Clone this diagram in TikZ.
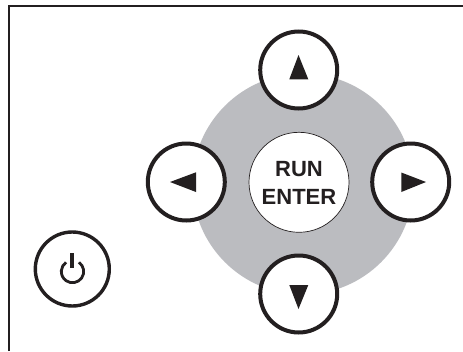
\documentclass[tikz,border=0pt]{standalone}
\usepackage{fontspec}
\setmainfont{Liberation Sans}
\definecolor{ink}{HTML}{231F20}
\definecolor{padgray}{HTML}{BBBCC0}
\tikzset{
  x=1pt,y=-1pt,
  navbtn/.style={circle,draw=ink,line width=4pt,fill=white,minimum size=77pt,inner sep=0pt,outer sep=0pt},
  pwrbtn/.style={circle,draw=ink,line width=3.4pt,fill=white,minimum size=74pt,inner sep=0pt,outer sep=0pt},
  runbtn/.style={circle,draw=ink,line width=0.7pt,fill=white,minimum size=100pt,inner sep=0pt,outer sep=0pt,
    align=center,font=\fontsize{22}{28.8}\selectfont\bfseries,text=ink},
  arrowglyph/.style={fill=ink,draw=none},
  frameline/.style={draw=ink,line width=2pt},
}
\begin{document}
\begin{tikzpicture}
\useasboundingbox (0,0) rectangle (463,351);
\fill[white] (0,0) rectangle (463,351);
\draw[frameline] (8.7,351) -- (8.7,6) -- (463,6);
\fill[padgray] (303,184) circle[radius=110.5];
\node[runbtn] (run) at (299,182.3) {};
\node[align=center,font=\fontsize{22}{28.8}\selectfont\bfseries,text=ink,inner sep=0pt] (runlabel) at (299,183) {RUN\\ENTER};
\node[navbtn] (up) at (298.7,70) {};
\node[navbtn] (down) at (298.7,294) {};
\node[navbtn] (left) at (186.3,182) {};
\node[navbtn] (right) at (410.7,182) {};
\node[pwrbtn] (power) at (72.3,269) {};
\fill[arrowglyph] (298.5,55) -- (308.3,79.3) -- (289.3,79.3) -- cycle;
\fill[arrowglyph] (298.5,309) -- (308.3,285) -- (289.3,285) -- cycle;
\fill[arrowglyph] (170,182) -- (196,172.3) -- (196,192) -- cycle;
\fill[arrowglyph] (426,182) -- (401.3,172.5) -- (401.3,192) -- cycle;
\draw[ink,line width=2.8pt] (72.5,271.5) ++(-55:11.2) arc[start angle=-55,end angle=235,radius=11.2];
\draw[ink,line width=4pt] (72,253) -- (72,268);
\end{tikzpicture}
\end{document}
